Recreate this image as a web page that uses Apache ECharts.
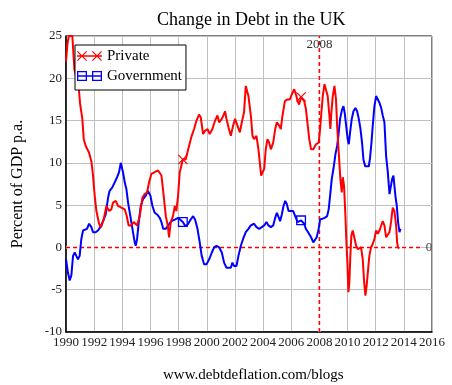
<!DOCTYPE html>
<html><head><meta charset="utf-8">
<script src="https://cdn.jsdelivr.net/npm/echarts@6/dist/echarts.min.js"></script>
<style>html,body{margin:0;padding:0;background:#fff}#c{width:452px;height:385px}</style>
</head><body><div id="c"></div>
<script>
const privateYears = [1990.0,1990.1,1990.2,1990.45,1990.6,1990.75,1990.9,1991.0,1991.16,1991.26,1991.4,1991.64,1991.8,1991.92,1992.04,1992.16,1992.35,1992.49,1992.68,1992.87,1993.06,1993.22,1993.34,1993.53,1993.7,1993.93,1994.17,1994.29,1994.45,1994.64,1994.81,1995.05,1995.24,1995.43,1995.59,1995.76,1995.9,1996.07,1996.3,1996.54,1996.78,1996.94,1997.09,1997.23,1997.32,1997.44,1997.6,1997.73,1997.84,1997.96,1998.08,1998.3,1998.5,1998.74,1998.93,1999.1,1999.27,1999.45,1999.57,1999.74,1999.88,2000.05,2000.21,2000.4,2000.59,2000.76,2000.88,2001.07,2001.21,2001.3,2001.4,2001.54,2001.71,2001.87,2002.01,2002.18,2002.35,2002.49,2002.65,2002.77,2002.84,2002.96,2003.13,2003.25,2003.36,2003.53,2003.67,2003.77,2003.86,2003.96,2004.08,2004.19,2004.31,2004.43,2004.55,2004.72,2004.86,2004.98,2005.14,2005.26,2005.38,2005.55,2005.73,2005.9,2006.04,2006.21,2006.33,2006.45,2006.56,2006.7,2006.8,2006.92,2007.04,2007.16,2007.28,2007.41,2007.57,2007.76,2007.95,2008.05,2008.14,2008.24,2008.36,2008.47,2008.59,2008.71,2008.78,2008.85,2008.95,2009.07,2009.18,2009.26,2009.33,2009.42,2009.49,2009.59,2009.66,2009.75,2009.85,2009.92,2009.99,2010.06,2010.13,2010.2,2010.27,2010.37,2010.49,2010.61,2010.73,2010.84,2010.96,2011.08,2011.18,2011.27,2011.36,2011.46,2011.55,2011.67,2011.79,2011.91,2012.03,2012.15,2012.27,2012.39,2012.5,2012.62,2012.74,2012.86,2012.98,2013.1,2013.21,2013.33,2013.45,2013.52,2013.59,2013.69];
const privateValues = [22,24,25,25,21,20,19,17,15.2,12.8,12,11.2,10.2,8.5,6.1,4.3,2.8,2.4,3.3,4.9,4.3,4.5,5.3,5.5,4.9,4.7,4.5,3.9,2.6,2.6,3.0,2.6,3.7,5.9,6.3,6.5,7.7,8.7,8.9,9.1,8.5,6.1,3.7,2.6,1.2,3.0,3.7,4.9,4.3,6.1,8.9,10.4,10.4,12,13.2,14,15,15.7,15.4,13.4,13.8,14,13.4,14,15,15.6,14.8,15.2,15.7,16.1,15.2,14.2,13.2,14.4,15.2,14.4,13.6,14.8,16,19.1,19.3,17.9,15.6,13.2,12.8,13.2,11.6,10,8.5,8.3,9.3,11.6,12.8,12.4,11.6,12.4,14,14.8,14.4,14,15.6,17.3,17.5,17.5,18.1,18.7,18.1,17.3,16.9,17.8,17.9,17.3,16.4,14.6,12.8,11.6,11.6,12.2,12.4,14,15.9,17.9,19.3,19.1,17.9,15.6,14,15.9,17.9,19.1,17.5,14.4,12.4,10,8.1,6.5,8.3,7.3,3.7,0.6,-1.8,-5.3,-4.1,-1,1.4,2,1.8,0.2,-0.2,0,0,-1.4,-4.1,-5.7,-4.5,-2.6,-1,0,0.4,1,2,1.6,2,2.2,3.1,2.6,1.2,1,1.8,3.1,4.7,4.3,2.6,0.6,0,-0.1];
const govYears = [1990.0,1990.14,1990.26,1990.38,1990.5,1990.62,1990.73,1990.85,1990.97,1991.09,1991.21,1991.33,1991.49,1991.64,1991.8,1991.92,1992.11,1992.27,1992.44,1992.63,1992.82,1992.99,1993.1,1993.29,1993.46,1993.63,1993.77,1993.89,1993.98,1994.05,1994.17,1994.29,1994.41,1994.53,1994.64,1994.76,1994.88,1994.95,1995.05,1995.17,1995.31,1995.47,1995.66,1995.81,1995.9,1996.0,1996.14,1996.3,1996.47,1996.66,1996.78,1996.9,1997.09,1997.25,1997.49,1997.73,1997.96,1998.1,1998.3,1998.45,1998.6,1998.74,1998.86,1999.03,1999.17,1999.34,1999.5,1999.64,1999.81,1999.98,2000.17,2000.36,2000.52,2000.69,2000.88,2001.07,2001.23,2001.4,2001.54,2001.71,2001.82,2001.94,2002.11,2002.25,2002.42,2002.58,2002.77,2002.96,2003.13,2003.36,2003.53,2003.72,2003.91,2004.08,2004.24,2004.38,2004.55,2004.72,2004.86,2004.98,2005.09,2005.21,2005.33,2005.45,2005.57,2005.69,2005.81,2005.97,2006.14,2006.28,2006.45,2006.56,2006.7,2006.8,2006.92,2007.04,2007.2,2007.41,2007.57,2007.67,2007.81,2007.95,2008.05,2008.19,2008.38,2008.55,2008.66,2008.76,2008.88,2009.0,2009.14,2009.26,2009.35,2009.47,2009.61,2009.71,2009.8,2009.9,2010.01,2010.09,2010.18,2010.3,2010.42,2010.56,2010.68,2010.8,2010.92,2011.03,2011.13,2011.25,2011.39,2011.51,2011.6,2011.7,2011.79,2011.91,2012.03,2012.15,2012.27,2012.39,2012.5,2012.62,2012.74,2012.86,2012.98,2013.1,2013.17,2013.26,2013.33,2013.4,2013.5,2013.59,2013.69,2013.76];
const govValues = [-1.4,-3,-3.9,-3.3,-1,-0.6,-1,-1.4,-1,1,2,2.2,2.2,2.8,2.4,1.8,1.8,2,2.4,3.1,3.9,5.9,6.7,7.1,7.7,8.3,8.9,10,10,8.9,7.7,6.9,5.3,4.1,3,1.8,0.6,0.2,1,3,4.9,5.7,6.1,6.7,6.9,6.1,4.9,4.1,3.9,3.5,3,2.2,2.2,2.6,3.1,3.3,3.5,3.4,3.0,2.6,2.6,2.8,3.3,3.7,3.3,2.2,0.6,-1,-2,-2,-1.4,-0.6,0,0.2,0,-0.6,-1.8,-2.4,-2.6,-2.4,-1.8,-2.2,-2.2,-1,0.2,1,1.8,2.2,2.6,2.8,2.4,2.2,2.4,2.6,3,2.6,2.4,2.6,3.5,4.1,3.9,3.1,3.9,4.9,5.5,5.1,4.3,4.3,4.3,3.7,3.0,2.8,3.2,3.3,2.8,2.2,1.8,1.2,0.6,0.4,1.2,2.2,3.3,3.5,3.5,3.7,4.5,6.1,8.1,9.3,11,12,13.2,15.2,16.3,16.7,15.9,14.4,12.8,12.2,13.6,15.2,16.1,16.5,16.1,15.2,14,12.4,10.4,9.6,9.4,9.6,10.6,12.4,14.4,16.7,17.9,17.7,17.1,16.5,15.6,14.8,10.8,8.9,6.3,6.3,8.1,8.5,8.3,6.1,4.9,3,1.8,2.2];
const markerYears = [1998.3, 2006.7];
const xTicks = {min: 1990, max: 2016, interval: 2};
const yTicks = {min: -10, max: 25, interval: 5};
const eventYear = 2008;
const zeroLineEnd = 2015.2;

const FONT = '"Liberation Serif", "Times New Roman", serif';
const xPath = 'path://M0,0.8L0.8,0L10,9.2L9.2,10ZM9.2,0L10,0.8L0.8,10L0,9.2Z';
const sqPath = 'path://M0,0H10V10H0ZM1.3,1.3V8.7H8.7V1.3Z';
const xLegend = 'path://M0,4.3H25V5.7H0ZM0,0.8L0.8,0L10,9.2L9.2,10ZM9.2,0L10,0.8L0.8,10L0,9.2ZM15,0.8L15.8,0L25,9.2L24.2,10ZM24.2,0L25,0.8L15.8,10L15,9.2Z';
const sqLegend = 'path://M0,4.3H25V5.7H0ZM0,0H10V10H0ZM1.3,1.3V8.7H8.7V1.3ZM15,0H25V10H15ZM16.3,1.3V8.7H23.7V1.3Z';

function build(years, vals, sym) {
  return years.map((y, i) => {
    const isMark = markerYears.some(m => Math.abs(m - y) < 0.001);
    return isMark ? {value: [y, vals[i]], symbol: sym, symbolSize: 10}
                  : {value: [y, vals[i]], symbol: 'none'};
  });
}

const refLine = {color: '#ff0000', type: [4, 3], width: 1.6};
const underLine = {color: '#ffffff', type: 'solid', width: 2.2};
const zeroData = [[xTicks.min, 0], [zeroLineEnd, 0]];
const eventData = [[eventYear, yTicks.min], [eventYear, yTicks.max]];

const chart = echarts.init(document.getElementById('c'), null, {renderer: 'canvas'});
chart.setOption({
  animation: false,
  backgroundColor: '#fff',
  textStyle: {fontFamily: FONT},
  title: [
    {text: 'Change in Debt in the UK', left: 152, top: 6,
     textStyle: {fontFamily: FONT, fontSize: 18, fontWeight: 'normal', color: '#000'}},
    {text: 'www.debtdeflation.com/blogs', left: 158, top: 363,
     textStyle: {fontFamily: FONT, fontSize: 15, fontWeight: 'normal', color: '#000'}}
  ],
  legend: {
    orient: 'vertical', left: 75, top: 45,
    padding: [3, 4, 6, 2], itemGap: 4, itemWidth: 25, itemHeight: 10,
    backgroundColor: '#fff', borderColor: '#000', borderWidth: 1, borderRadius: 0,
    textStyle: {fontFamily: FONT, fontSize: 15, color: '#000', lineHeight: 16},
    data: [{name: 'Private', icon: xLegend}, {name: 'Government', icon: sqLegend}]
  },
  grid: {left: 66, right: 20, top: 36, bottom: 53, show: true, borderColor: '#000', borderWidth: 1},
  xAxis: {
    type: 'value', min: xTicks.min, max: xTicks.max, interval: xTicks.interval,
    axisLine: {show: true, onZero: false, lineStyle: {color: '#000', width: 1.5}},
    axisTick: {show: false},
    axisLabel: {fontFamily: FONT, fontSize: 13, color: '#222', margin: 4, formatter: v => String(v)},
    splitLine: {show: true, lineStyle: {color: '#c0c0c0', width: 1}}
  },
  yAxis: {
    type: 'value', min: yTicks.min, max: yTicks.max, interval: yTicks.interval,
    name: 'Percent of GDP p.a.', nameLocation: 'middle', nameGap: 40, nameRotate: 90,
    nameTextStyle: {fontFamily: FONT, fontSize: 16, color: '#000'},
    axisLine: {show: true, onZero: false, lineStyle: {color: '#000', width: 1.5}},
    axisTick: {show: false},
    axisLabel: {fontFamily: FONT, fontSize: 13, color: '#222', margin: 4},
    splitLine: {show: true, lineStyle: {color: '#c0c0c0', width: 1}}
  },
  series: [
    {name: 'zeroBg', type: 'line', silent: true, symbol: 'none', z: 1, data: zeroData, lineStyle: underLine},
    {name: 'eventBg', type: 'line', silent: true, symbol: 'none', z: 1, data: eventData, lineStyle: underLine},
    {
      name: 'zero', type: 'line', silent: true, symbol: 'none', z: 1,
      data: zeroData, lineStyle: refLine, itemStyle: {color: '#ff0000'},
      endLabel: {show: true, formatter: '0', color: '#444', fontFamily: FONT, fontSize: 13, distance: 5}
    },
    {
      name: 'event', type: 'line', silent: true, symbol: 'none', z: 1,
      data: eventData, lineStyle: refLine, itemStyle: {color: '#ff0000'}
    },
    {
      name: 'Private', type: 'line', data: build(privateYears, privateValues, xPath),
      showAllSymbol: true, symbol: xPath, symbolSize: 10,
      lineStyle: {color: '#ff0000', width: 2}, itemStyle: {color: '#ff0000'},
      z: 3,
      markPoint: {
        silent: true, symbol: 'circle', symbolSize: 1, itemStyle: {color: 'rgba(0,0,0,0)'},
        label: {show: true, position: 'inside', formatter: String(eventYear), color: '#333', fontFamily: FONT, fontSize: 13},
        data: [{coord: [eventYear, 24]}]
      }
    },
    {
      name: 'Government', type: 'line', data: build(govYears, govValues, sqPath),
      showAllSymbol: true, symbol: sqPath, symbolSize: 10,
      lineStyle: {color: '#0000ff', width: 2}, itemStyle: {color: '#0000ff'},
      z: 2
    }
  ]
});
</script></body></html>
